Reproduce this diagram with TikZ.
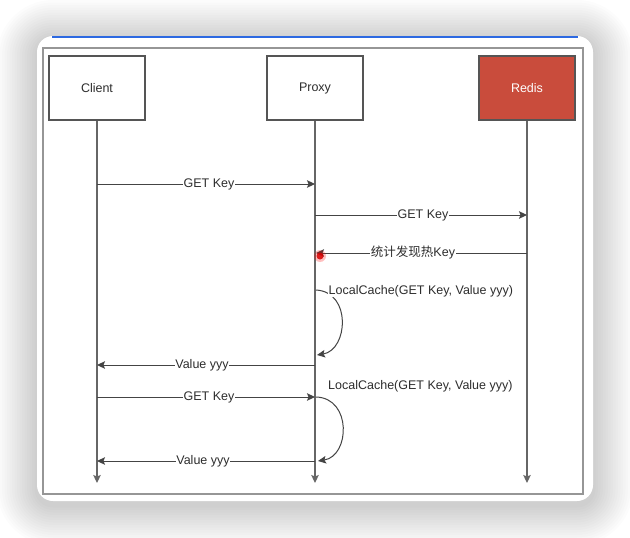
\documentclass[tikz,border=0pt]{standalone}
\usepackage{fontspec}
\setmainfont{Liberation Sans}
\newfontfamily\cjk{Noto Sans CJK SC}
\usetikzlibrary{arrows.meta}
\definecolor{redisred}{RGB}{201,76,60}
\definecolor{txt}{RGB}{45,45,45}
\definecolor{lineg}{RGB}{85,85,85}
\definecolor{frameg}{RGB}{150,150,150}
\definecolor{topblue}{RGB}{45,105,225}
\tikzset{
  actor/.style={draw=lineg, line width=1.1pt, minimum width=96pt, minimum height=64pt, inner sep=0pt, text=txt, font=\fontsize{12.5}{15}\selectfont},
  lifeline/.style={draw=lineg!90, line width=1.1pt, -{Stealth[length=8pt,width=7.5pt,inset=1.5pt]}},
  msg/.style={draw=lineg!80!black, line width=1pt, -{Stealth[length=8pt,width=7.5pt,inset=1.5pt]}},
  lbl/.style={fill=white, inner sep=0.5pt, text=txt, font=\fontsize{12.5}{15}\selectfont},
  freelbl/.style={inner sep=0pt, text=txt, font=\fontsize{12.5}{15}\selectfont}
}
\begin{document}
\begin{tikzpicture}[x=1pt,y=-1pt]
\useasboundingbox (0,0) rectangle (630,538);
\fill[white] (0,0) rectangle (630,538);
% shadow of the card
\foreach \i in {1,...,16}{
  \fill[black, opacity=0.011, rounded corners={16pt+2.5pt*\i}]
    ({37-2.5*\i},{40-2.5*\i}) rectangle ({593+2.5*\i},{505+2.5*\i});
}
% card
\fill[white, rounded corners=16pt] (37,36) rectangle (593,501);
\draw[topblue, line width=1.2pt] (52,37) -- (578,37);
\draw[frameg, line width=1.4pt] (43,48) rectangle (583,494);

% actors
\node[actor] (client) at (97,88) {Client};
\node[actor] (proxy) at (315,88) {Proxy};
\node[actor, fill=redisred, text=white] (redis) at (527,88) {Redis};

% lifeline ends
\coordinate (cEnd) at (97,483);
\coordinate (pEnd) at (315,483);
\coordinate (rEnd) at (527,483);
\draw[lifeline] (client.south) -- (cEnd);
\draw[lifeline] (proxy.south) -- (pEnd);
\draw[lifeline] (redis.south) -- (rEnd);

% message points
\coordinate (c1) at (97,184);  \coordinate (p1) at (315,184);
\coordinate (p2) at (315,215); \coordinate (r2) at (527,215);
\coordinate (r3) at (527,253); \coordinate (p3) at (316,253);
\coordinate (p4a) at (316,290); \coordinate (p4b) at (317,355);
\coordinate (p5) at (315,365); \coordinate (c5) at (97,365);
\coordinate (c6) at (97,397);  \coordinate (p6) at (315,397);
\coordinate (p7a) at (316,397); \coordinate (p7b) at (318,461);
\coordinate (p8) at (315,461); \coordinate (c8) at (97,461);

\draw[msg] (c1) -- (p1);
\node[lbl] (l1) at (209,184) {GET Key};

\draw[msg] (p2) -- (r2);
\node[lbl] (l2) at (423,215) {GET Key};

\draw[msg] (r3) -- (p3);
\node[lbl] (l3) at (413,253) {{\cjk 统计发现热}Key};

\draw[msg] (p4a) .. controls (352,292) and (348,350) .. (p4b);
\node[lbl, anchor=west] (l4) at (328,291) {LocalCache(GET Key, Value yyy)};

\draw[msg] (p5) -- (c5);
\node[lbl] (l5) at (202,365) {Value yyy};

\draw[msg] (c6) -- (p6);
\node[lbl] (l6) at (209,397) {GET Key};

\node[freelbl, anchor=west] (l7) at (328,386) {LocalCache(GET Key, Value yyy)};
\draw[msg] (p7a) .. controls (352,398) and (350,456) .. (p7b);

\draw[msg] (p8) -- (c8);
\node[lbl] (l8) at (203,461) {Value yyy};

% red pointer dot
\fill[red, opacity=0.25] (320,256) circle (6pt);
\fill[red!85!black, opacity=0.85] (320,256) circle (3.5pt);
\end{tikzpicture}
\end{document}
